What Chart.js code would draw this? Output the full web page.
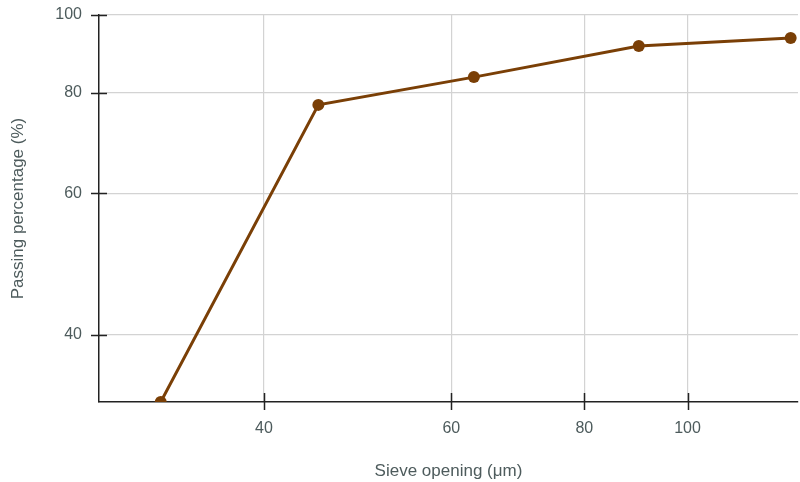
<!DOCTYPE html>
<html>
<head>
<meta charset="utf-8">
<style>
  html, body { margin: 0; padding: 0; background: #ffffff; }
  #wrap { width: 800px; height: 482px; }
</style>
<script src="https://cdn.jsdelivr.net/npm/chart.js@4/dist/chart.umd.min.js"></script>
</head>
<body>
<div id="wrap"><canvas id="chart" width="800" height="482"></canvas></div>
<script>
// Sieve analysis: cumulative passing percentage per sieve opening
const sieveOpenings = [32, 45, 63, 90, 125];       // µm
const passingPercent = [33, 77.3, 83.7, 91.5, 93.6]; // %
const xTickValues = [40, 60, 80, 100];
const yTickValues = [40, 60, 80, 100];

const textColor = '#4d5b5c';
const lineColor = '#7a3f06';
const axisColor = '#222222';
const gridColor = '#d3d3d3';
const fontFamily = '"Liberation Sans", Arial, Helvetica, sans-serif';

// Short dark tick marks that cross the axis lines
const crossTicks = {
  id: 'crossTicks',
  afterDraw(chart) {
    const ctx = chart.ctx;
    const xs = chart.scales.x, ys = chart.scales.y;
    const area = chart.chartArea;
    ctx.save();
    ctx.strokeStyle = axisColor;
    ctx.lineWidth = 1.5;
    ctx.beginPath();
    xTickValues.forEach(v => {
      const px = Math.round(xs.getPixelForValue(v)) + 0.5;
      ctx.moveTo(px, area.bottom - 9);
      ctx.lineTo(px, area.bottom + 8);
    });
    yTickValues.forEach(v => {
      const py = Math.round(ys.getPixelForValue(v)) + 0.5;
      ctx.moveTo(area.left - 8, py);
      ctx.lineTo(area.left + 8, py);
    });
    ctx.stroke();
    ctx.restore();
  }
};

new Chart(document.getElementById('chart'), {
  type: 'line',
  data: {
    datasets: [{
      data: sieveOpenings.map((x, i) => ({ x: x, y: passingPercent[i] })),
      borderColor: lineColor,
      backgroundColor: lineColor,
      borderWidth: 3,
      pointRadius: 6,
      pointBorderWidth: 0,
      pointBackgroundColor: lineColor,
      tension: 0,
      clip: 0
    }]
  },
  options: {
    responsive: false,
    animation: false,
    events: [],
    layout: { autoPadding: false, padding: { top: 15, right: 2, left: 0, bottom: 0 } },
    plugins: { legend: { display: false }, tooltip: { enabled: false } },
    scales: {
      x: {
        type: 'logarithmic',
        min: 28,
        max: 127,
        afterBuildTicks: s => { s.ticks = xTickValues.map(v => ({ value: v })); },
        afterFit: s => {
          s.height = 80;
          s.paddingLeft = 0; s.paddingRight = 0;
        },
        ticks: {
          color: textColor,
          font: { family: fontFamily, size: 16 },
          padding: 17,
          maxRotation: 0,
          autoSkip: false,
          callback: v => String(v)
        },
        grid: { color: gridColor, lineWidth: 1.2, drawTicks: false },
        border: { display: true, color: axisColor, width: 1.5 },
        title: {
          display: true,
          text: 'Sieve opening (μm)',
          color: textColor,
          font: { family: fontFamily, size: 17 },
          padding: { top: 4, bottom: 0 }
        }
      },
      y: {
        type: 'logarithmic',
        min: 33,
        max: 100,
        afterBuildTicks: s => { s.ticks = yTickValues.map(v => ({ value: v })); },
        afterFit: s => {
          s.width = 99;
          s.paddingTop = 0; s.paddingBottom = 0;
        },
        ticks: {
          color: textColor,
          font: { family: fontFamily, size: 16 },
          padding: 17,
          autoSkip: false,
          callback: v => String(v)
        },
        grid: { color: gridColor, lineWidth: 1.2, drawTicks: false },
        border: { display: true, color: axisColor, width: 1.5 },
        title: {
          display: true,
          text: 'Passing percentage (%)',
          color: textColor,
          font: { family: fontFamily, size: 17 },
          padding: { top: 8, bottom: 0 }
        }
      }
    }
  },
  plugins: [crossTicks]
});
</script>
</body>
</html>
